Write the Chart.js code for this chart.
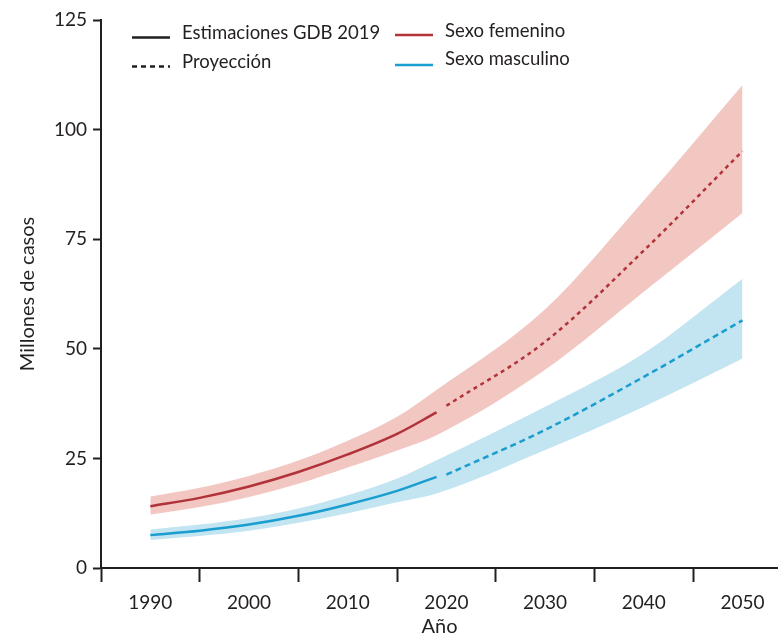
<!DOCTYPE html>
<html>
<head>
<meta charset="utf-8">
<script src="https://cdn.jsdelivr.net/npm/chart.js@4/dist/chart.umd.min.js"></script>
<style>
  html, body { margin: 0; padding: 0; background: #fff; }
  #wrap { position: relative; width: 778px; height: 639px; }
</style>
</head>
<body>
<div id="wrap"><canvas id="line-chart" width="778" height="639"></canvas></div>
<script>
// years
var estYears = [1990, 1995, 2000, 2005, 2010, 2015, 2019];
var projYears = [2020, 2030, 2040, 2050];
var bandYears = [1990, 1995, 2000, 2005, 2010, 2015, 2019, 2030, 2040, 2050];
var xTickLabels = [1990, 2000, 2010, 2020, 2030, 2040, 2050];
var yTicks = [0, 25, 50, 75, 100, 125];

// female (millions)
var femEst = [14.1, 16.0, 18.6, 21.9, 25.9, 30.6, 35.5];
var femProj = [37.0, 51.6, 72.4, 95.1];
var femUpper = [16.3, 18.3, 21.0, 24.5, 29.0, 34.5, 40.6, 59.0, 83.8, 110.2];
var femLower = [12.2, 13.9, 16.2, 19.2, 22.9, 26.8, 30.3, 45.2, 63.0, 81.0];

// male (millions)
var malEst = [7.5, 8.5, 9.9, 11.9, 14.5, 17.6, 20.8];
var malProj = [21.3, 31.5, 43.6, 56.5];
var malUpper = [8.8, 9.9, 11.4, 13.6, 16.6, 20.4, 24.6, 36.8, 49.0, 66.0];
var malLower = [6.4, 7.3, 8.5, 10.3, 12.5, 15.0, 17.0, 26.9, 36.8, 47.8];

var legendLabels = ["Estimaciones GDB 2019", "Proyección", "Sexo femenino", "Sexo masculino"];

var axisColor = "#231f20";
var femLine = "#b2323a", femBand = "#f2c6c1";
var malLine = "#1a9dcf", malBand = "#c3e4f1";
var fontFamily = "Lato, 'Open Sans', sans-serif";

function pts(xs, ys) {
  return xs.map(function (x, i) { return { x: x, y: ys[i] }; });
}

function lineSet(xs, ys, color, dash) {
  return {
    data: pts(xs, ys),
    borderColor: color,
    borderWidth: 2.5,
    borderDash: dash,
    pointRadius: 0,
    fill: false,
    cubicInterpolationMode: 'monotone'
  };
}

function bandSet(ys, color, fill) {
  return {
    data: pts(bandYears, ys),
    borderWidth: 0,
    borderColor: color,
    backgroundColor: color,
    pointRadius: 0,
    fill: fill,
    cubicInterpolationMode: 'monotone'
  };
}

// legend drawn on top of the plot, two columns
var legendPlugin = {
  id: 'legendBox',
  afterDraw: function (chart) {
    var ctx = chart.ctx;
    ctx.save();
    ctx.font = "18.5px " + fontFamily;
    ctx.fillStyle = axisColor;
    ctx.textBaseline = 'alphabetic';
    ctx.lineWidth = 2.5;

    var items = [
      { x: 132, y: 37.5, w: 38, color: axisColor, dash: [], tx: 182, ty: 39 },
      { x: 132, y: 66.5, w: 38, color: axisColor, dash: [5, 4], tx: 182, ty: 68 },
      { x: 395, y: 35, w: 38, color: femLine, dash: [], tx: 445, ty: 36.5 },
      { x: 395, y: 65, w: 38, color: malLine, dash: [], tx: 445, ty: 65 }
    ];
    items.forEach(function (it, i) {
      ctx.beginPath();
      ctx.setLineDash(it.dash);
      ctx.strokeStyle = it.color;
      ctx.moveTo(it.x, it.y);
      ctx.lineTo(it.x + it.w, it.y);
      ctx.stroke();
      ctx.fillText(legendLabels[i], it.tx, it.ty);
    });
    ctx.restore();
  }
};

new Chart(document.getElementById("line-chart"), {
  type: 'line',
  data: {
    datasets: [
      lineSet(estYears, femEst, femLine, []),
      lineSet(projYears, femProj, femLine, [4, 4]),
      lineSet(estYears, malEst, malLine, []),
      lineSet(projYears, malProj, malLine, [6, 4]),
      bandSet(femUpper, femBand, '+1'),
      bandSet(femLower, femBand, false),
      bandSet(malUpper, malBand, '+1'),
      bandSet(malLower, malBand, false)
    ]
  },
  options: {
    responsive: false,
    animation: false,
    layout: { padding: { top: 20, right: 0, left: 0, bottom: 0 } },
    plugins: {
      legend: { display: false },
      tooltip: { enabled: false }
    },
    scales: {
      x: {
        type: 'linear',
        min: 1985,
        max: 2053.6,
        afterBuildTicks: function (scale) {
          var t = [];
          for (var v = 1985; v <= 2050; v += 5) t.push({ value: v });
          scale.ticks = t;
        },
        afterFit: function (scale) { scale.height = 71; },
        ticks: {
          autoSkip: false,
          maxRotation: 0,
          padding: 9,
          color: axisColor,
          font: { family: fontFamily, size: 19 },
          callback: function (v) { return xTickLabels.indexOf(v) >= 0 ? String(v) : ''; }
        },
        grid: {
          drawOnChartArea: false,
          drawTicks: true,
          tickLength: 14,
          tickWidth: 2,
          tickColor: function (c) {
            return (c.tick && c.tick.value % 10 === 5) ? axisColor : 'rgba(0,0,0,0)';
          }
        },
        border: { color: axisColor, width: 2 },
        title: {
          display: true,
          text: 'Año',
          color: axisColor,
          font: { family: fontFamily, size: 20 },
          padding: { top: 0, bottom: 0 }
        }
      },
      y: {
        min: 0,
        max: 125,
        afterBuildTicks: function (scale) {
          scale.ticks = yTicks.map(function (v) { return { value: v }; });
        },
        afterFit: function (scale) { scale.width = 101; },
        ticks: {
          padding: 6,
          color: axisColor,
          font: { family: fontFamily, size: 19 }
        },
        grid: {
          drawOnChartArea: false,
          drawTicks: true,
          tickLength: 8,
          tickWidth: 2,
          tickColor: axisColor
        },
        border: { color: axisColor, width: 2 },
        title: {
          display: true,
          text: 'Millones de casos',
          color: axisColor,
          font: { family: fontFamily, size: 20 },
          padding: { top: 16, bottom: 0 }
        }
      }
    }
  },
  plugins: [legendPlugin]
});
</script>
</body>
</html>
